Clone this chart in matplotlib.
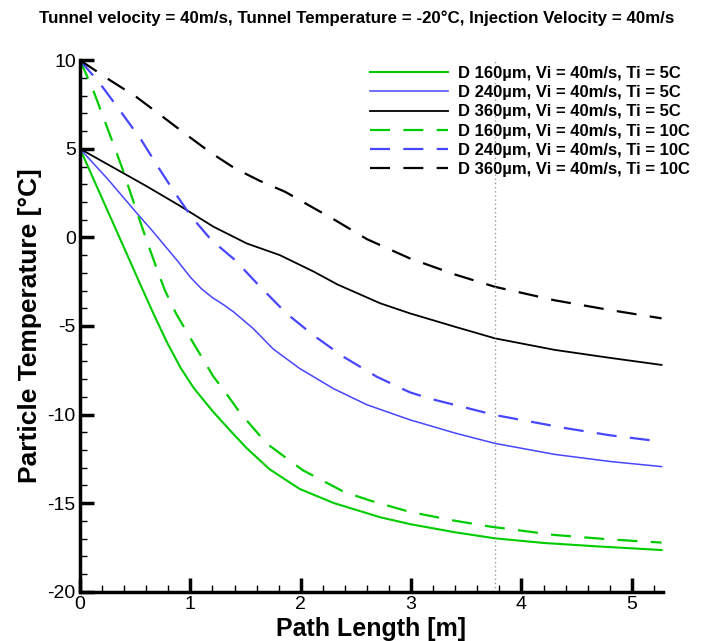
import numpy as np
import matplotlib.pyplot as plt
from matplotlib.ticker import MultipleLocator

plt.rcParams['font.family'] = ['Liberation Sans', 'DejaVu Sans']
plt.rcParams['axes.unicode_minus'] = False

# D 160um, Ti = 5C
x_g5 = [0, 0.15, 0.30, 0.45, 0.56, 0.665, 0.79, 0.91, 1.03, 1.2, 1.345, 1.51, 1.72, 1.99, 2.3, 2.72, 3.0, 3.4, 3.76, 4.2, 4.7, 5.27]
y_g5 = [5, 2.9, 0.8, -1.3, -2.85, -4.3, -5.95, -7.35, -8.5, -9.8, -10.8, -11.9, -13.1, -14.2, -15.0, -15.8, -16.2, -16.65, -16.99, -17.25, -17.45, -17.65]
# D 240um, Ti = 5C
x_b5 = [0, 0.25, 0.51, 0.65, 0.88, 1.0, 1.1, 1.2, 1.3, 1.39, 1.57, 1.75, 1.99, 2.3, 2.6, 2.99, 3.4, 3.76, 4.3, 4.8, 5.27]
y_b5 = [5, 3.3, 1.4, 0.41, -1.3, -2.25, -2.9, -3.4, -3.8, -4.2, -5.15, -6.3, -7.4, -8.55, -9.45, -10.3, -11.05, -11.63, -12.25, -12.65, -12.94]
# D 360um, Ti = 5C
x_k5 = [0, 0.3, 0.6, 0.9, 1.21, 1.51, 1.81, 2.12, 2.33, 2.72, 2.99, 3.4, 3.76, 4.3, 4.8, 5.27]
y_k5 = [5, 3.95, 2.9, 1.8, 0.6, -0.34, -1.0, -1.94, -2.65, -3.72, -4.29, -5.05, -5.7, -6.35, -6.8, -7.2]
# D 160um, Ti = 10C
x_g10 = [0, 0.12, 0.21, 0.30, 0.38, 0.45, 0.53, 0.60, 0.70, 0.77, 0.87, 1.03, 1.21, 1.30, 1.45, 1.69, 2.02, 2.39, 2.63, 2.99, 3.4, 3.72, 4.3, 4.8, 5.27]
y_g10 = [10, 8.3, 6.8, 5.3, 3.95, 2.65, 1.16, -0.1, -1.85, -3.0, -4.3, -6.0, -7.87, -8.6, -9.9, -11.63, -13.15, -14.36, -14.86, -15.5, -16.0, -16.33, -16.8, -17.05, -17.23]
# D 240um, Ti = 10C
x_b10 = [0, 0.18, 0.36, 0.556, 0.707, 0.843, 1.01, 1.19, 1.405, 1.617, 1.87, 2.12, 2.39, 2.69, 2.99, 3.2, 3.76, 4.41, 4.8, 5.27]
y_b10 = [10, 8.69, 7.18, 5.49, 3.98, 2.67, 1.16, -0.15, -1.28, -2.69, -4.29, -5.55, -6.75, -7.87, -8.75, -9.15, -10.03, -10.78, -11.17, -11.53]
# D 360um, Ti = 10C
x_k10 = [0, 0.27, 0.51, 0.73, 0.97, 1.18, 1.405, 1.63, 1.86, 2.085, 2.31, 2.6, 2.99, 3.4, 3.76, 4.3, 4.8, 5.27]
y_k10 = [10, 8.88, 7.93, 6.9, 5.77, 4.8, 3.89, 3.19, 2.57, 1.77, 0.98, -0.1, -1.19, -2.1, -2.79, -3.55, -4.1, -4.57]

labels = ['D 160µm, Vi = 40m/s, Ti = 5C', 'D 240µm, Vi = 40m/s, Ti = 5C',
          'D 360µm, Vi = 40m/s, Ti = 5C', 'D 160µm, Vi = 40m/s, Ti = 10C',
          'D 240µm, Vi = 40m/s, Ti = 10C', 'D 360µm, Vi = 40m/s, Ti = 10C']
marker_x = 3.76

green = '#00cc00'
blue = '#4646ff'
black = '#000000'

fig = plt.figure(figsize=(7.02, 6.41), dpi=100)
ax = fig.add_axes([0.114, 0.077, 0.83, 0.829])

ax.plot(x_g5, y_g5, color=green, lw=1.5, label=labels[0])
ax.plot(x_b5, y_b5, color=blue, lw=1.1, label=labels[1])
ax.plot(x_k5, y_k5, color=black, lw=1.3, label=labels[2])
ax.plot(x_g10, y_g10, color=green, lw=1.6, dashes=(9, 6), label=labels[3])
ax.plot(x_b10, y_b10, color=blue, lw=1.6, dashes=(9, 6), label=labels[4])
ax.plot(x_k10, y_k10, color=black, lw=1.6, dashes=(9, 6), label=labels[5])
ax.axvline(marker_x, color='#999999', lw=1, ls=(0, (1, 2)))

ax.set_xlim(0, 5.28)
ax.set_ylim(-20, 10)
ax.xaxis.set_major_locator(MultipleLocator(1))
ax.xaxis.set_minor_locator(MultipleLocator(0.2))
ax.yaxis.set_major_locator(MultipleLocator(5))
ax.yaxis.set_minor_locator(MultipleLocator(1))
ax.tick_params(which='major', direction='in', length=10, width=2.5, labelsize=14, pad=3)
ax.tick_params(which='minor', direction='in', length=5, width=1)
for s in ['top', 'right']:
    ax.spines[s].set_visible(False)
for s in ['left', 'bottom']:
    ax.spines[s].set_linewidth(2.5)

ax.set_xlabel('Path Length [m]', fontsize=18, fontweight='bold', labelpad=3)
ax.set_ylabel('Particle Temperature [°C]', fontsize=19, fontweight='bold', labelpad=4)
fig.text(0.508, 0.972, 'Tunnel velocity = 40m/s, Tunnel Temperature = -20°C, Injection Velocity = 40m/s',
         ha='center', va='center', fontsize=12.2, fontweight='bold')

fig.legend(loc='upper left', bbox_to_anchor=(0.515, 0.91), frameon=False,
           prop={'weight': 'bold', 'size': 12}, handlelength=4.7,
           handletextpad=0.6, labelspacing=0.25, borderpad=0)

fig.savefig('out.png', dpi=100)
